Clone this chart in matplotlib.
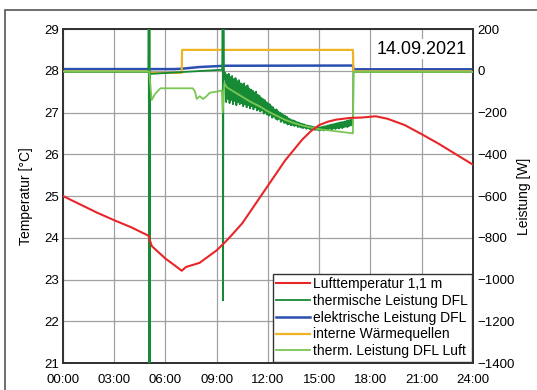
import numpy as np
import matplotlib.pyplot as plt
from matplotlib.patches import Rectangle

plt.rcParams['font.family'] = ['Liberation Sans', 'DejaVu Sans']

# Lufttemperatur 1,1 m [°C]
t_red = [0, 1, 2, 3, 4, 5, 5.2, 5.6, 6.0, 6.5, 6.95, 7.2, 7.6, 8.0, 8.5, 9.0, 9.5,
         9.8, 10.5, 11.0, 11.5, 12.0, 12.5, 13.0, 13.5, 14.0, 14.5, 15.0, 15.5,
         16.0, 16.8, 17.5, 18.3, 19.0, 20.0, 21.0, 22.0, 23.0, 24.0]
temp_red = [25.0, 24.8, 24.6, 24.42, 24.25, 24.05, 23.8, 23.65, 23.5, 23.35, 23.21,
            23.3, 23.35, 23.4, 23.55, 23.7, 23.9, 24.03, 24.35, 24.65, 24.95, 25.25,
            25.55, 25.85, 26.1, 26.35, 26.55, 26.7, 26.78, 26.83, 26.87, 26.88,
            26.91, 26.85, 26.7, 26.48, 26.25, 26.0, 25.75]

# thermische Leistung DFL [W]
t_therm = [0, 5.0, 5.02, 5.04, 5.06, 5.08, 5.1, 9.3, 9.33, 9.35, 9.37, 9.39, 9.41]
p_therm = [-5, -5, 400, -1600, 400, -1600, -15, 5, 5, 400, -1100, 300, -40]
# noisy part 9.5 h ... 16.95 h, every 0.05 h
t_noise = np.linspace(9.5, 16.95, 150)
p_noise = [-10, -150, -20, -135, -15, -155, -30, -140, -25, -160,
           -40, -145, -35, -165, -50, -150, -45, -160, -60, -155,
           -65, -170, -60, -160, -75, -175, -70, -165, -85, -180,
           -90, -170, -95, -185, -105, -175, -100, -190, -115, -185,
           -120, -195, -130, -190, -135, -205, -140, -200, -150, -210,
           -155, -215, -160, -210, -170, -225, -175, -220, -185, -230,
           -185, -235, -195, -230, -200, -245, -205, -240, -212, -250,
           -215, -250, -220, -258, -228, -255, -232, -262, -236, -260,
           -238, -265, -242, -262, -246, -270, -248, -268, -252, -272,
           -254, -275, -256, -272, -260, -278, -262, -276, -264, -280,
           -265, -281, -268, -279, -270, -284, -271, -282, -273, -285,
           -272, -285, -270, -283, -268, -286, -266, -282, -265, -284,
           -262, -280, -260, -278, -258, -281, -256, -276, -255, -279,
           -252, -274, -250, -277, -248, -272, -246, -275, -245, -270,
           -243, -268, -240, -270, -238, -265, -236, -262, -234, -258]
t_therm_end = [16.98, 17.0, 24.0]
p_therm_end = [-240, -5, -5]

# elektrische Leistung DFL [W]
t_elek = [0, 6.5, 7.0, 7.5, 8.0, 8.5, 9.0, 9.5, 16.97, 17.0, 24.0]
p_elek = [8, 8, 10, 14, 18, 20, 22, 24, 25, 7, 7]

# interne Wärmequellen [W]
t_int = [0, 5.0, 5.05, 6.95, 6.97, 16.97, 17.0, 24.0]
p_int = [-3, -3, -10, -10, 100, 100, -3, -3]

# therm. Leistung DFL Luft [W]
t_luft = [0, 5.05, 5.19, 5.4, 5.7, 7.6, 7.73, 7.83, 8.0, 8.2, 8.4, 8.6, 9.0, 9.3,
          9.35, 9.45, 9.6, 10.0, 10.5, 11.0, 11.5, 12.0, 12.5, 13.0, 13.5, 14.0,
          14.5, 15.0, 15.5, 16.0, 16.5, 16.97, 17.0, 24.0]
p_luft = [-3, -3, -140, -110, -84, -84, -100, -135, -122, -135, -122, -105, -100,
          -94, -200, -60, -80, -100, -125, -150, -170, -195, -215, -235, -250,
          -262, -272, -280, -285, -290, -295, -300, -5, -5]

hours = [0, 3, 6, 9, 12, 15, 18, 21, 24]
hour_labels = ['00:00', '03:00', '06:00', '09:00', '12:00', '15:00', '18:00', '21:00', '24:00']

fig = plt.figure(figsize=(5.37, 3.90), dpi=100)
ax = fig.add_axes([0.1173, 0.0692, 0.7635, 0.8564])
ax2 = ax.twinx()

grid_c = '#a0a0a0'
ax.set_xlim(0, 24)
ax.set_ylim(21, 29)
ax2.set_ylim(-1400, 200)
ax.set_xticks(hours)
ax.set_xticklabels(hour_labels)
ax.set_yticks(range(21, 30))
ax2.set_yticks(range(-1400, 201, 200))
ax.grid(True, color=grid_c, lw=0.9)
ax.tick_params(length=0, labelsize=9.5, pad=3)
ax.tick_params(axis='x', pad=8)
ax2.tick_params(length=0, labelsize=9.5, pad=3)
for sp in ax.spines.values():
    sp.set_color('#333333')
    sp.set_linewidth(1.4)
for sp in ax2.spines.values():
    sp.set_color('#333333')
    sp.set_linewidth(1.4)

ax.set_ylabel('Temperatur [°C]', fontsize=10, labelpad=8)
ax2.set_ylabel('Leistung [W]', fontsize=10, labelpad=2)

red, = ax2.plot([], [], color='#e8262a', lw=1.5, label='Lufttemperatur 1,1 m')

t_dg = list(t_therm) + list(t_noise) + t_therm_end
p_dg = list(p_therm) + list(p_noise) + p_therm_end
ax2.plot(t_elek, p_elek, color='#2a4fb0', lw=1.8, label='elektrische Leistung DFL', zorder=2)
ax2.plot(t_int, p_int, color='#f0b323', lw=1.6, label='interne Wärmequellen', zorder=2)
ax2.plot(t_dg, p_dg, color='#178a35', lw=1.3, label='thermische Leistung DFL', zorder=3)
ax2.plot(t_luft, p_luft, color='#7cc653', lw=1.3, label='therm. Leistung DFL Luft', zorder=4)
# temperature drawn on the power axis via the fixed 1 K = 200 W mapping of both axes
ax2.plot(t_red, [(v - 28) * 200 for v in temp_red], color='#e8262a', lw=1.5, zorder=5)

handles, labels = ax2.get_legend_handles_labels()
order = [0, 3, 1, 2, 4]
leg = ax2.legend([handles[i] for i in order], [labels[i] for i in order],
                 loc='lower right', fontsize=10, handlelength=2.4, handletextpad=0.25,
                 labelspacing=0.2, borderpad=0.25, borderaxespad=0.1, fancybox=False,
                 framealpha=1, edgecolor='#333333')
leg.get_frame().set_linewidth(1.0)

ax2.text(0.985, 0.965, '14.09.2021', transform=ax2.transAxes, ha='right', va='top',
         fontsize=13, bbox=dict(facecolor='white', edgecolor='none', pad=1))

fig.patches.append(Rectangle((5 / 537, -0.1), 1.2, 1 - 10 / 390 + 0.1,
                             transform=fig.transFigure, fill=False,
                             edgecolor='#555555', lw=1.2))

fig.savefig('out.png', dpi=100)
